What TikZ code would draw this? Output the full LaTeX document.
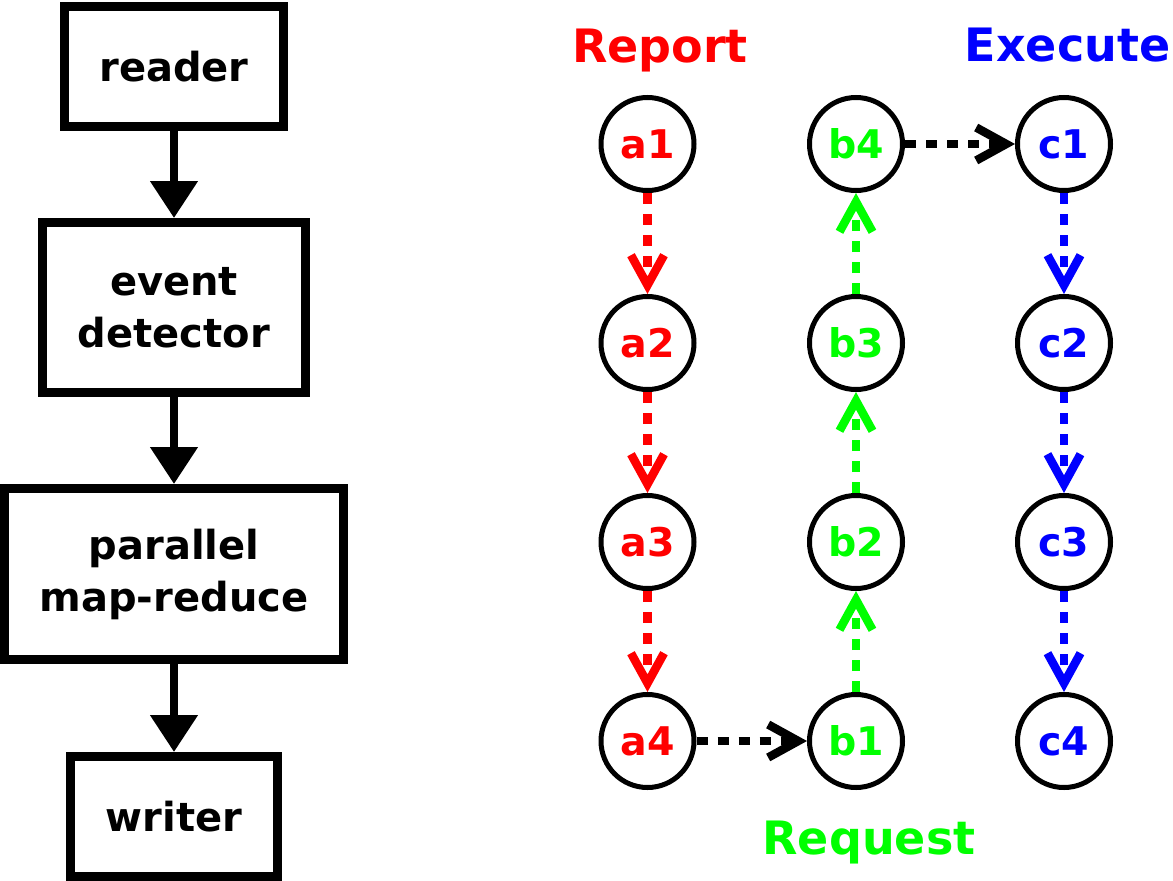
\documentclass[tikz,border=0pt]{standalone}
\usepackage{fontspec}
\setmainfont{DejaVu Sans}
\usetikzlibrary{arrows.meta}
\definecolor{cred}{RGB}{255,0,0}
\definecolor{cgreen}{RGB}{0,255,0}
\definecolor{cblue}{RGB}{0,0,255}
\begin{document}
\begin{tikzpicture}[x=1pt,y=-1pt,
  box/.style={draw, line width=9pt, inner sep=0pt, align=center,
    font=\fontsize{40}{52}\selectfont\bfseries},
  circ/.style={circle, draw, line width=5pt, minimum size=93pt, inner sep=0pt,
    font=\fontsize{39.5}{47}\selectfont\bfseries},
  ttl/.style={anchor=base, inner sep=0pt, font=\fontsize{46}{55}\selectfont\bfseries},
  flow/.style={line width=8pt, -{Triangle[length=37pt,width=46pt]}},
  dotarrow/.style={line width=8.5pt, dash pattern=on 11pt off 10pt,
    -{Straight Barb[length=30pt,width=33pt]}}]
\useasboundingbox (0,0) rectangle (1173,881);
% left flow
\node[box, minimum width=219pt, minimum height=120pt] (reader) at (174,66.5) {reader};
\node[box, minimum width=263pt, minimum height=170pt] (event) at (174,307.5) {event\\detector};
\node[box, minimum width=339pt, minimum height=171pt] (par) at (174,574) {parallel\\map-reduce};
\node[box, minimum width=207pt, minimum height=120pt] (writer) at (174,816.5) {writer};
\draw[flow] (reader.south) -- (event.north);
\draw[flow] (event.south) -- (par.north);
\draw[flow] (par.south) -- (writer.north);
% titles
\node[ttl, text=cred] (tr) at (660,62) {Report};
\node[ttl, text=cblue] (te) at (1067.5,61) {Execute};
\node[ttl, text=cgreen] (tq) at (869,854) {Request};
% circles
\node[circ, text=cred] (a1) at (647.5,144) {a1};
\node[circ, text=cred] (a2) at (647.5,343) {a2};
\node[circ, text=cred] (a3) at (647.5,542) {a3};
\node[circ, text=cred] (a4) at (647.5,741) {a4};
\node[circ, text=cgreen] (b4) at (856,144) {b4};
\node[circ, text=cgreen] (b3) at (856,343) {b3};
\node[circ, text=cgreen] (b2) at (856,542) {b2};
\node[circ, text=cgreen] (b1) at (856,741) {b1};
\node[circ, text=cblue] (c1) at (1064,144) {c1};
\node[circ, text=cblue] (c2) at (1064,343) {c2};
\node[circ, text=cblue] (c3) at (1064,542) {c3};
\node[circ, text=cblue] (c4) at (1064,741) {c4};
% arrows
\draw[dotarrow, cred] (a1) -- (a2);
\draw[dotarrow, cred] (a2) -- (a3);
\draw[dotarrow, cred] (a3) -- (a4);
\draw[dotarrow, cgreen] (b1) -- (b2);
\draw[dotarrow, cgreen] (b2) -- (b3);
\draw[dotarrow, cgreen] (b3) -- (b4);
\draw[dotarrow, cblue] (c1) -- (c2);
\draw[dotarrow, cblue] (c2) -- (c3);
\draw[dotarrow, cblue] (c3) -- (c4);
\draw[dotarrow, black] (a4) -- (b1);
\draw[dotarrow, black] (b4) -- (c1);
\end{tikzpicture}
\end{document}
